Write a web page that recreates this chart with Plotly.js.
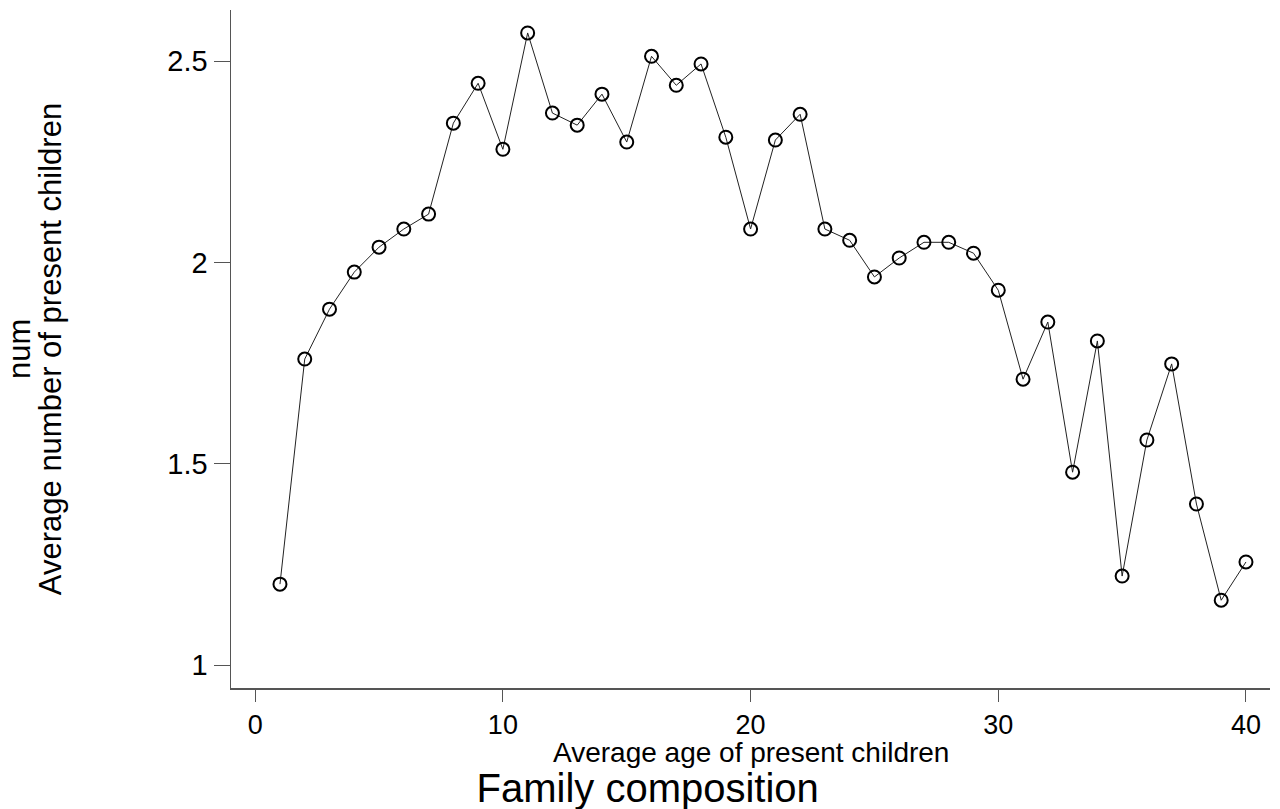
<!DOCTYPE html>
<html>
<head>
<meta charset="utf-8">
<script src="https://cdn.plot.ly/plotly-3.0.1.min.js"></script>
<style>html,body{margin:0;padding:0;background:#fff;}#chart{width:1280px;height:809px;}</style>
</head>
<body>
<div id="chart"></div>
<script>
const ages = [1,2,3,4,5,6,7,8,9,10,11,12,13,14,15,16,17,18,19,20,21,22,23,24,25,26,27,28,29,30,31,32,33,34,35,36,37,38,39,40];
const avgChildren = [1.201,1.760,1.884,1.976,2.038,2.083,2.120,2.346,2.445,2.281,2.570,2.371,2.341,2.418,2.299,2.512,2.440,2.493,2.311,2.083,2.304,2.368,2.083,2.055,1.964,2.011,2.050,2.050,2.023,1.931,1.710,1.852,1.479,1.805,1.221,1.559,1.748,1.400,1.161,1.256];
const xTicks = [0,10,20,30,40];
const yTicks = [1,1.5,2,2.5];
const yTickText = ["1","1.5","2","2.5"];
const yVarName = "num";
const xTitle = "Average age of present children";

const trace = {
  x: ages, y: avgChildren, type: 'scatter', mode: 'lines+markers',
  line: {color: '#222', width: 1},
  marker: {symbol: 'circle-open', size: 13, color: '#000', line: {width: 2, color: '#000'}},
  showlegend: false, hoverinfo: 'x+y'
};

const layout = {
  width: 1280, height: 809,
  paper_bgcolor: '#fff', plot_bgcolor: '#fff',
  margin: {l: 231, r: 10, t: 10, b: 121},
  font: {family: 'Liberation Sans, Arial, sans-serif', color: '#000'},
  title: {text: 'Family composition', font: {size: 40, color: '#000'}, x: 0.506, xanchor: 'center', y: 0.026, yanchor: 'middle', yref: 'container'},
  xaxis: {
    range: [-0.977, 40.97], tickvals: xTicks, ticktext: xTicks.map(String),
    showgrid: false, zeroline: false, showline: true, linecolor: '#555', linewidth: 1.5,
    ticks: 'outside', ticklen: 12, tickwidth: 1, tickcolor: '#555',
    tickfont: {size: 27}, automargin: false
  },
  yaxis: {
    range: [0.943, 2.627], tickvals: yTicks, ticktext: yTickText,
    showgrid: false, zeroline: false, showline: true, linecolor: '#555', linewidth: 1.5,
    ticks: 'outside', ticklen: 16, tickwidth: 1, tickcolor: '#555',
    tickfont: {size: 29}, automargin: false,
    title: {text: 'Average number of present children', font: {size: 31}, standoff: 96}
  },
  annotations: [
    {
      text: yVarName, xref: 'paper', yref: 'paper', x: -212/1039, y: 0.5,
      xanchor: 'center', yanchor: 'middle', textangle: -90, showarrow: false,
      font: {size: 31, color: '#000'}
    },
    {
      text: xTitle, xref: 'paper', yref: 'paper', x: 0.5, y: -(752-688)/678,
      xanchor: 'center', yanchor: 'middle', showarrow: false,
      font: {size: 28, color: '#000'}
    }
  ]
};

Plotly.newPlot('chart', [trace], layout, {displayModeBar: false, staticPlot: true});
</script>
</body>
</html>
